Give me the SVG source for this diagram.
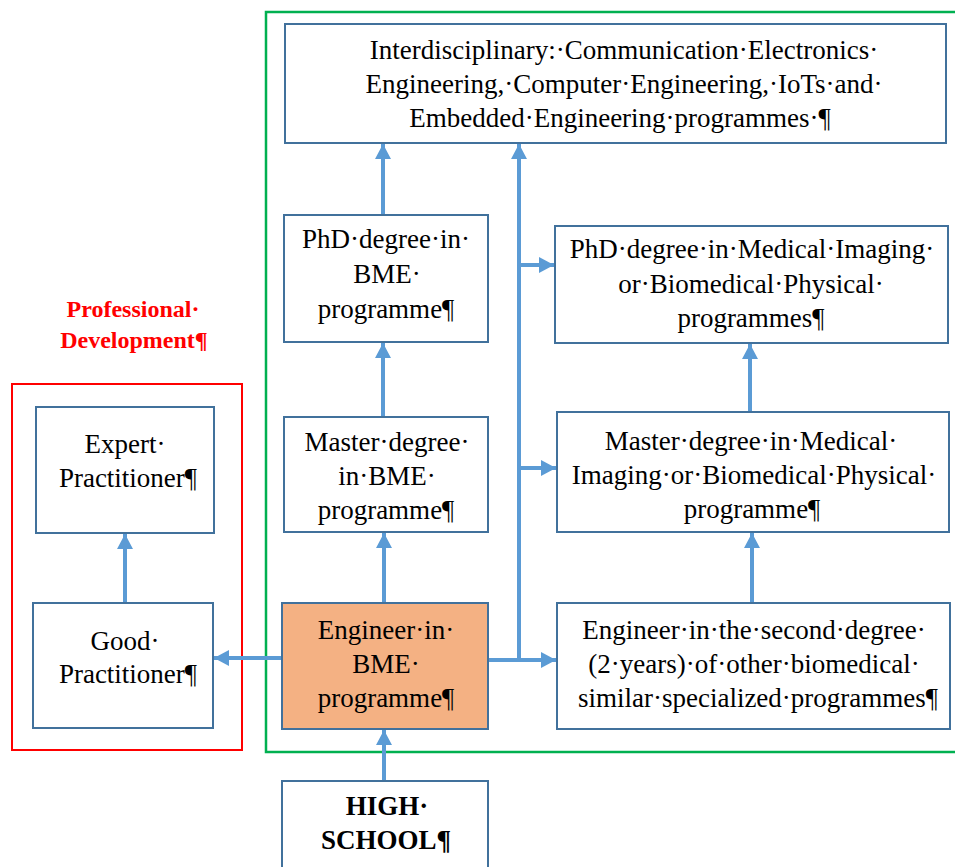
<svg xmlns="http://www.w3.org/2000/svg" width="955" height="867" viewBox="0 0 955 867" font-family="Liberation Serif, Times New Roman, serif">
<style>
.node{fill:#ffffff;stroke:#41719C;stroke-width:2}
.hl{fill:#F4B183}
.t{font-size:27px;fill:#000;text-anchor:middle}
.b{font-weight:bold}
.red{fill:#FF0000;font-size:24px;font-weight:bold}
.c{stroke:#5B9BD5;stroke-width:4;fill:none}
</style>
<defs>
<marker id="ah" markerUnits="userSpaceOnUse" markerWidth="16" markerHeight="16" refX="15" refY="8" orient="auto">
<path d="M0,0 L15,8 L0,16 z" fill="#5B9BD5"/>
</marker>
</defs>
<rect x="266" y="12" width="700" height="740" fill="none" stroke="#00B050" stroke-width="2.5"/>
<rect x="12" y="384" width="230" height="366" fill="none" stroke="#FF0000" stroke-width="2"/>
<text class="t red" x="133" y="317">Professional·</text>
<text class="t red" x="134" y="348">Development¶</text>
<g id="connectors">
<line class="c" x1="383" y1="215" x2="383" y2="144" marker-end="url(#ah)"/>
<line class="c" x1="383" y1="417" x2="383" y2="343" marker-end="url(#ah)"/>
<line class="c" x1="384" y1="603" x2="384" y2="533" marker-end="url(#ah)"/>
<line class="c" x1="384" y1="781" x2="384" y2="730" marker-end="url(#ah)"/>
<line class="c" x1="519" y1="660" x2="519" y2="144" marker-end="url(#ah)"/>
<line class="c" x1="488" y1="660" x2="556" y2="660" marker-end="url(#ah)"/>
<line class="c" x1="519" y1="265" x2="554" y2="265" marker-end="url(#ah)"/>
<line class="c" x1="519" y1="468" x2="556" y2="468" marker-end="url(#ah)"/>
<line class="c" x1="752" y1="603" x2="752" y2="533" marker-end="url(#ah)"/>
<line class="c" x1="750" y1="412" x2="750" y2="344" marker-end="url(#ah)"/>
<line class="c" x1="282" y1="658" x2="214" y2="658" marker-end="url(#ah)"/>
<line class="c" x1="125" y1="603" x2="125" y2="534" marker-end="url(#ah)"/>
</g>
<g id="n-inter">
<rect class="node" x="285" y="24" width="661" height="119"/>
<text class="t" x="624" y="59">Interdisciplinary:·Communication·Electronics·</text>
<text class="t" x="624" y="93">Engineering,·Computer·Engineering,·IoTs·and·</text>
<text class="t" x="620" y="127">Embedded·Engineering·programmes·¶</text>
</g>
<g id="n-phd-bme">
<rect class="node" x="284" y="215" width="204" height="127"/>
<text class="t" x="386" y="248">PhD·degree·in·</text>
<text class="t" x="387" y="283">BME·</text>
<text class="t" x="386" y="318">programme¶</text>
</g>
<g id="n-master-bme">
<rect class="node" x="284" y="417" width="204" height="115"/>
<text class="t" x="387" y="451">Master·degree·</text>
<text class="t" x="387" y="485">in·BME·</text>
<text class="t" x="386" y="519">programme¶</text>
</g>
<g id="n-eng-bme">
<rect class="node hl" x="282" y="603" width="206" height="126"/>
<text class="t" x="386" y="639">Engineer·in·</text>
<text class="t" x="386" y="673">BME·</text>
<text class="t" x="386" y="707">programme¶</text>
</g>
<g id="n-high">
<rect class="node" x="282" y="781" width="206" height="100"/>
<text class="t b" x="387" y="815">HIGH·</text>
<text class="t b" x="386" y="849">SCHOOL¶</text>
</g>
<g id="n-phd-mi">
<rect class="node" x="555" y="226" width="393" height="117"/>
<text class="t" x="752" y="258">PhD·degree·in·Medical·Imaging·</text>
<text class="t" x="751" y="293">or·Biomedical·Physical·</text>
<text class="t" x="751" y="327">programmes¶</text>
</g>
<g id="n-master-mi">
<rect class="node" x="557" y="412" width="392" height="120"/>
<text class="t" x="751" y="450">Master·degree·in·Medical·</text>
<text class="t" x="754" y="484">Imaging·or·Biomedical·Physical·</text>
<text class="t" x="752" y="518">programme¶</text>
</g>
<g id="n-eng-second">
<rect class="node" x="557" y="603" width="393" height="126"/>
<text class="t" x="754" y="639">Engineer·in·the·second·degree·</text>
<text class="t" x="754" y="673">(2·years)·of·other·biomedical·</text>
<text class="t" x="758" y="707">similar·specialized·programmes¶</text>
</g>
<g id="n-expert">
<rect class="node" x="36" y="407" width="178" height="126"/>
<text class="t" x="125" y="453">Expert·</text>
<text class="t" x="128" y="487">Practitioner¶</text>
</g>
<g id="n-good">
<rect class="node" x="33" y="603" width="180" height="125"/>
<text class="t" x="125" y="650">Good·</text>
<text class="t" x="128" y="683">Practitioner¶</text>
</g>
</svg>
